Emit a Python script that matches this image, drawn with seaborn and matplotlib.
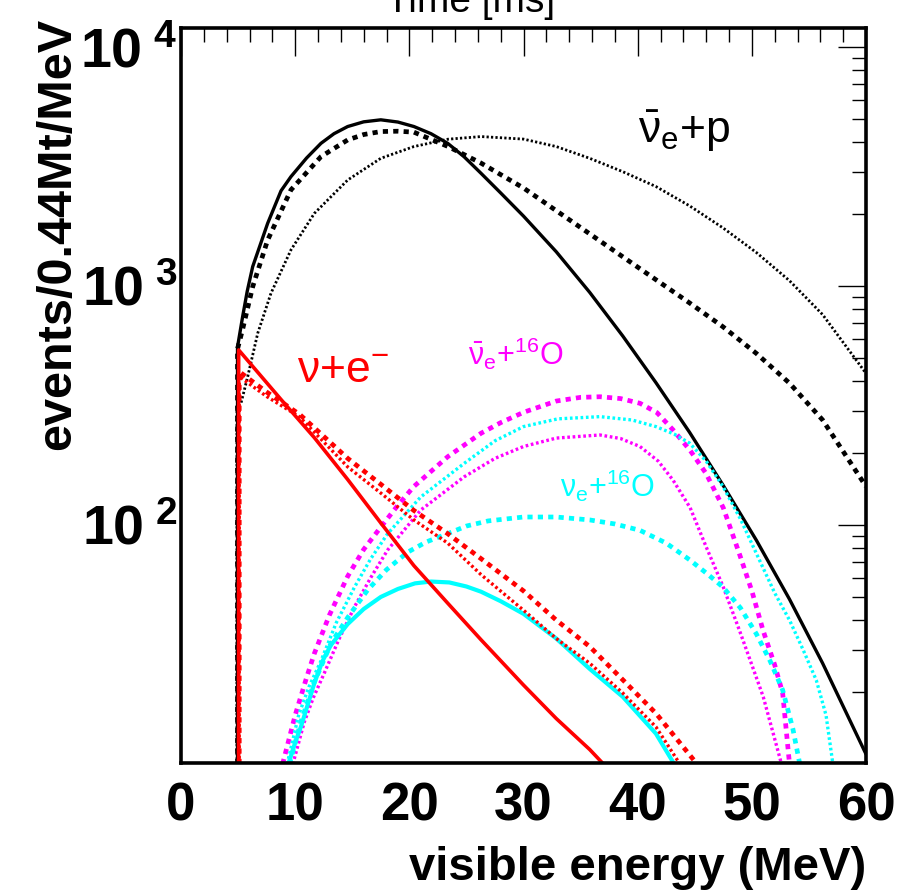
import matplotlib
matplotlib.use("Agg")
import numpy as np
import matplotlib.pyplot as plt
import seaborn as sns
from matplotlib.ticker import MultipleLocator, LogLocator, NullFormatter

# ---- data (visible energy in MeV, events/0.44Mt/MeV) ----

# anti-nu_e + p
x_p_solid = [4.95, 4.95, 5.4, 5.8, 6.28, 7.59, 8.76, 9.63, 11.0, 12.26, 13.4, 14.6, 16.0, 17.5,
             19.0, 20.4, 21.9, 23.36, 24.8, 26.28, 28.0, 30.0, 32.87, 35.8, 38.7, 41.6,
             44.55, 47.47, 50.4, 53.3, 56.2, 60.0]
y_p_solid = [10, 555, 745, 950, 1205, 1828, 2500, 2866, 3430, 3951, 4335, 4645, 4860, 4955,
             4850, 4645, 4335, 3951, 3470, 2960, 2450, 1960, 1390, 940, 617, 394,
             244, 147, 86.3, 48.9, 26.4, 11.0]
x_p_dash = [4.95, 4.95, 5.4, 6.28, 7.59, 9.63, 12.26, 14.6, 16.0, 17.5, 19.0, 20.4, 23.36,
            26.28, 30.0, 32.87, 35.8, 38.7, 41.6, 44.55, 47.47, 50.4, 53.3, 56.2, 60.0]
y_p_dash = [10, 545, 660, 993, 1556, 2523, 3475, 4083, 4300, 4426, 4440, 4400, 3837,
            3266, 2570, 2065, 1652, 1324, 1062, 849, 675, 522, 392, 275, 145]
x_p_dot = [4.9, 4.9, 5.26, 5.84, 6.72, 7.88, 9.63, 11.68, 14.6, 17.5, 20.4, 23.36, 26.28,
           30.0, 32.87, 35.8, 38.7, 41.6, 44.55, 47.47, 50.4, 53.3, 56.2, 60.0]
y_p_dot = [10, 320, 324, 417, 634, 932, 1415, 2012, 2775, 3420, 3830, 4110, 4217,
           4115, 3830, 3420, 3006, 2606, 2163, 1750, 1380, 1052, 759, 431]

# nu + e-
x_e_solid = [5.05, 5.05, 8.76, 11.68, 14.6, 17.5, 20.4, 23.36, 26.28, 30.0, 32.87,
             35.8, 37.0]
y_e_solid = [10, 540, 335, 232, 155, 102, 67.6, 47.1, 33.1, 21.4, 15.5, 11.5, 10]
x_e_dash = [5.1, 5.1, 7.5, 10.4, 14.6, 17.5, 20.4, 23.36, 26.5, 30.0, 32.87, 35.8, 38.7,
            41.6, 45.2]
y_e_dash = [10, 438, 360, 290, 190, 148, 115, 92, 71, 53, 40, 31, 22.5, 16.3, 10]
x_e_dot = [5.1, 5.1, 7.5, 10.4, 14.6, 17.5, 20.4, 23.36, 26.28, 30.0, 32.87, 35.8, 38.7,
           41.6, 43.7]
y_e_dot = [10, 418, 345, 283, 175, 136, 105, 84, 62, 44, 33.5, 26.4, 19.8, 14.3, 10]

# nu_e + 16O
x_o_solid = [9.4, 10.0, 10.5, 11.68, 12.4, 13.14, 14.6, 16.0, 17.5, 19.0, 20.5, 21.9, 23.5,
             25.0, 26.28, 28.0, 30.0, 32.87, 35.8, 38.7, 41.6, 43.2]
y_o_solid = [10, 12.3, 14.3, 21.8, 27, 31.5, 38.5, 44.5, 50, 54, 57, 58, 57.5,
             55.3, 52.6, 48, 42.5, 33.5, 25, 19.1, 13.4, 10]
x_o_dash = [9.5, 10.5, 11.68, 13.14, 14.6, 16.35, 18.0, 19.86, 21.5, 23.36, 25.0, 26.9,
            30.0, 32.87, 35.8, 38.0, 40.2, 42.5, 44.55, 46.0, 47.47, 49.0, 50.4, 51.6,
            52.7, 53.6, 54.2]
y_o_dash = [10, 15, 22, 32, 41, 53.5, 65, 77, 85, 92, 99, 104,
            108, 108, 105, 101, 95, 84, 71.5, 63, 55, 45, 35, 27,
            20.4, 14, 10]
x_o_dot = [9.3, 10.3, 11.2, 12.26, 13.6, 15.2, 16.6, 18.1, 21.0, 24.8, 27.5, 30.0, 33.0,
           36.7, 39.5, 41.6, 43.2, 44.55, 46.0, 47.47, 49.0, 50.4, 52.0, 53.3, 54.5,
           55.65, 56.5, 57.1]
y_o_dot = [10, 16, 21, 27, 39, 55, 72, 92, 131, 181, 225, 258, 278,
           284, 275, 258, 240, 220, 185, 145, 106, 76, 52, 40, 30,
           22.4, 16, 10]

# anti-nu_e + 16O
x_ob_dash = [8.9, 10.0, 11.0, 11.68, 13.0, 14.6, 16.0, 17.5, 19.0, 20.4, 23.36, 26.28, 28.0,
             30.0, 32.87, 35.0, 36.7, 38.5, 40.2, 41.7, 43.1, 44.6, 46.0, 47.5, 48.9,
             50.0, 51.0, 52.0, 52.7, 53.3]
y_ob_dash = [10, 16, 23, 29, 42, 61, 79, 98, 121, 145, 193, 242, 268,
             296, 330, 342, 344, 338, 323, 295, 250, 205, 164, 118, 76,
             53, 36, 26, 19.8, 10]
x_ob_dot = [9.8, 10.8, 11.6, 12.55, 13.8, 15.2, 16.6, 18.1, 21.0, 24.8, 27.5, 30.0, 32.87,
            36.7, 38.5, 40.2, 41.8, 43.1, 44.6, 46.0, 47.5, 48.9, 50.0, 51.0, 52.6]
y_ob_dot = [10, 15, 19, 24, 33, 45.5, 60, 78.6, 115.5, 159, 190, 213, 231,
            238, 230, 213, 185, 154, 118, 81, 55, 36.4, 26, 19.1, 10]

xtick_values = [0, 10, 20, 30, 40, 50, 60]
ytick_values = [100, 1000, 10000]

# ---- style ----
sns.set_style("white")
plt.rcParams['font.family'] = ['Liberation Sans', 'DejaVu Sans']
plt.rcParams['mathtext.fontset'] = 'custom'
plt.rcParams['mathtext.rm'] = 'Liberation Sans'
plt.rcParams['mathtext.it'] = 'Liberation Sans'
plt.rcParams['mathtext.bf'] = 'Liberation Sans:bold'
plt.rcParams['text.color'] = 'black'
plt.rcParams['xtick.color'] = 'black'
plt.rcParams['ytick.color'] = 'black'

narrow = ['Liberation Sans Narrow', 'Liberation Sans', 'DejaVu Sans']

SOLID = '-'
DASH = (0, (1.1, 1.1))
DOT = (0, (0.8, 0.8))

curves = [
    (x_p_dot, y_p_dot, 'black', DOT, 2.0),
    (x_p_dash, y_p_dash, 'black', DASH, 3.4),
    (x_p_solid, y_p_solid, 'black', SOLID, 2.4),
    (x_ob_dot, y_ob_dot, '#ff00ff', DOT, 2.4),
    (x_ob_dash, y_ob_dash, '#ff00ff', DASH, 3.4),
    (x_o_dot, y_o_dot, '#00ffff', DOT, 2.4),
    (x_o_dash, y_o_dash, '#00ffff', DASH, 3.4),
    (x_o_solid, y_o_solid, '#00ffff', SOLID, 3.0),
    (x_e_dot, y_e_dot, '#ff0000', DOT, 2.4),
    (x_e_dash, y_e_dash, '#ff0000', DASH, 3.4),
    (x_e_solid, y_e_solid, '#ff0000', SOLID, 2.6),
]

fig = plt.figure(figsize=(9.16, 8.93), dpi=100)
ax = fig.add_axes([181 / 916, 1 - 763 / 893, 685 / 916, (763 - 28) / 893])
ax.set_yscale('log')

for xs, ys, col, ls, lw in curves:
    sns.lineplot(x=xs, y=ys, ax=ax, color=col, linestyle=ls, linewidth=lw,
                 sort=False, estimator=None)

ax.set_xlim(0, 60)
ax.set_ylim(10.1, 12000)
ax.set_xlabel('')
ax.set_ylabel('')

# ticks, ROOT style: inside, on all four sides
ax.set_xticks(xtick_values)
ax.set_xticklabels([str(v) for v in xtick_values], fontfamily=narrow,
                   fontweight='bold', fontsize=38)
ax.xaxis.set_minor_locator(MultipleLocator(2))
ax.set_yticks(ytick_values)
ax.set_yticklabels([r'$\mathbf{10^{\ %d}}$' % int(np.log10(v)) for v in ytick_values],
                   fontsize=40)
ax.yaxis.set_minor_locator(LogLocator(base=10, subs=np.arange(2, 10)))
ax.yaxis.set_minor_formatter(NullFormatter())
ax.tick_params(which='both', direction='in', top=True, right=True, width=1.0)
ax.tick_params(which='major', length=20)
ax.tick_params(which='minor', length=10)
ax.tick_params(axis='x', which='major', pad=13)
ax.tick_params(axis='y', which='major', pad=3)

for sp in ax.spines.values():
    sp.set_linewidth(2.6)
    sp.set_color('black')

# curve labels
ax.text(40.0, 3960, r'$\bar{\nu}_{e}$+p', fontsize=32, color='black')
ax.text(10.15, 393, r'$\nu$+e$^{-}$', fontsize=32, color='#ff0000')
ax.text(25.1, 467, r'$\bar{\nu}_{e}$+$^{16}$O', fontsize=22, color='#ff00ff')
ax.text(33.2, 131, r'$\nu_{e}$+$^{16}$O', fontsize=22, color='#00ffff')

# axis titles
fig.text(866 / 916, 1 - 880 / 893, 'visible energy (MeV)', ha='right', va='baseline',
         fontsize=34, fontweight='bold', family=narrow)
fig.text(70 / 916, 1 - 18 / 893, 'events/0.44Mt/MeV', rotation=90, rotation_mode='anchor',
         ha='right', va='baseline', fontsize=35, fontweight='bold', family=narrow)
fig.text(471 / 916, 1 - 12 / 893, 'Time [ms]', ha='center', va='baseline', fontsize=28)

fig.savefig('out.png', dpi=100)
